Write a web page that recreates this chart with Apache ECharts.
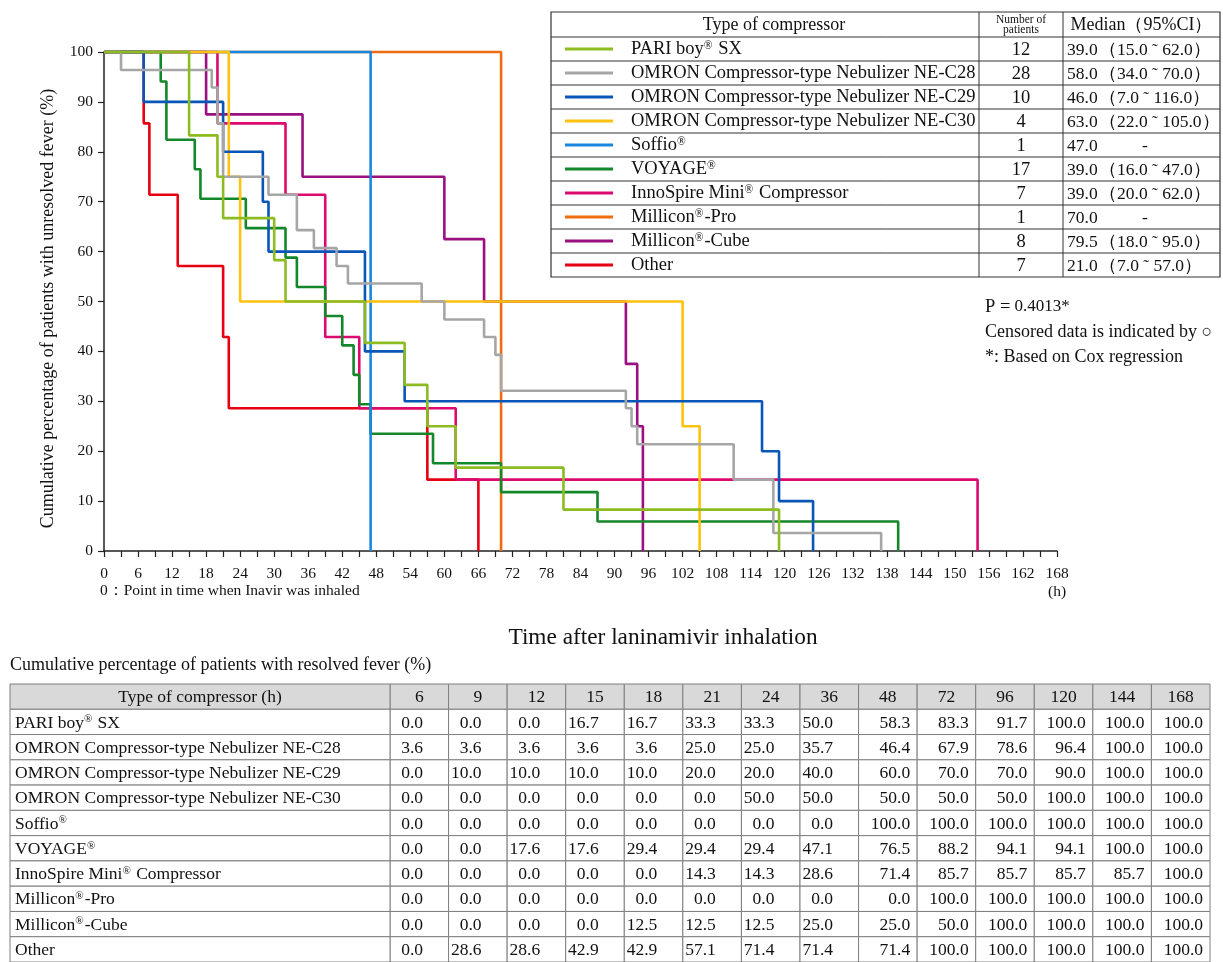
<!DOCTYPE html>
<html><head><meta charset="utf-8">
<script src="https://cdn.jsdelivr.net/npm/echarts@6/dist/echarts.min.js"></script>
<style>html,body{margin:0;padding:0;background:#fff}#c{width:1223px;height:962px}</style>
</head><body><div id="c"></div>
<script>
const FONT = '"Liberation Serif", "Times New Roman", serif';

// ---------- legend / series meta ----------
const compressorNames = [
  'PARI boy® SX',
  'OMRON Compressor-type Nebulizer NE-C28',
  'OMRON Compressor-type Nebulizer NE-C29',
  'OMRON Compressor-type Nebulizer NE-C30',
  'Soffio®',
  'VOYAGE®',
  'InnoSpire Mini® Compressor',
  'Millicon®-Pro',
  'Millicon®-Cube',
  'Other'
];
const compressorColors = ['#8CBB22','#A6A6A6','#0A56B8','#FFC20E','#1787E0','#14872A','#DC0A6E','#EF6C10','#9A1080','#E60012'];
const patientCounts = [12, 28, 10, 4, 1, 17, 7, 1, 8, 7];
const medianValues = [39.0, 58.0, 46.0, 63.0, 47.0, 39.0, 39.0, 70.0, 79.5, 21.0];
const ciLower = [15.0, 34.0, 7.0, 22.0, null, 16.0, 20.0, null, 18.0, 7.0];
const ciUpper = [62.0, 70.0, 116.0, 105.0, null, 47.0, 62.0, null, 95.0, 57.0];

// ---------- Kaplan-Meier step points (time h, % unresolved) ----------
const pariTimes = [0, 15, 20, 21, 30, 32, 46, 53, 57, 62, 81, 119];
const pariSurv  = [100, 83.3, 75, 66.7, 58.3, 50, 41.7, 33.3, 25, 16.7, 8.3, 0];
const c28Times = [0, 3, 19, 20, 21, 29, 34, 37, 41, 43, 56, 60, 67, 69, 70, 92, 93, 94, 111, 118, 137];
const c28Surv  = [100, 96.4, 92.9, 85.7, 75, 71.4, 64.3, 60.7, 57.1, 53.6, 50, 46.4, 42.9, 39.3, 32.1, 28.6, 25, 21.4, 14.3, 3.6, 0];
const c29Times = [0, 7, 21, 28, 29, 46, 53, 116, 119, 125];
const c29Surv  = [100, 90, 80, 70, 60, 40, 30, 20, 10, 0];
const c30Times = [0, 22, 24, 102, 105];
const c30Surv  = [100, 75, 50, 25, 0];
const soffioTimes = [0, 47];
const soffioSurv  = [100, 0];
const voyageTimes = [0, 10, 11, 16, 17, 25, 32, 34, 39, 42, 44, 45, 47, 58, 70, 87, 140];
const voyageSurv  = [100, 94.1, 82.4, 76.5, 70.6, 64.7, 58.8, 52.9, 47.1, 41.2, 35.3, 29.4, 23.5, 17.6, 11.8, 5.9, 0];
const innoTimes = [0, 20, 32, 39, 45, 62, 154];
const innoSurv  = [100, 85.7, 71.4, 42.9, 28.6, 14.3, 0];
const proTimes = [0, 70];
const proSurv  = [100, 0];
const cubeTimes = [0, 18, 35, 60, 67, 92, 94, 95];
const cubeSurv  = [100, 87.5, 75, 62.5, 50, 37.5, 25, 0];
const otherTimes = [0, 7, 8, 13, 21, 22, 57, 66];
const otherSurv  = [100, 85.7, 71.4, 57.1, 42.9, 28.6, 14.3, 0];

const allTimes = [pariTimes, c28Times, c29Times, c30Times, soffioTimes, voyageTimes, innoTimes, proTimes, cubeTimes, otherTimes];
const allSurv  = [pariSurv, c28Surv, c29Surv, c30Surv, soffioSurv, voyageSurv, innoSurv, proSurv, cubeSurv, otherSurv];

// ---------- resolved-fever table ----------
const tableHours = ['6','9','12','15','18','21','24','36','48','72','96','120','144','168'];
const resolvedPari   = [0.0,0.0,0.0,16.7,16.7,33.3,33.3,50.0,58.3,83.3,91.7,100.0,100.0,100.0];
const resolvedC28    = [3.6,3.6,3.6,3.6,3.6,25.0,25.0,35.7,46.4,67.9,78.6,96.4,100.0,100.0];
const resolvedC29    = [0.0,10.0,10.0,10.0,10.0,20.0,20.0,40.0,60.0,70.0,70.0,90.0,100.0,100.0];
const resolvedC30    = [0.0,0.0,0.0,0.0,0.0,0.0,50.0,50.0,50.0,50.0,50.0,100.0,100.0,100.0];
const resolvedSoffio = [0.0,0.0,0.0,0.0,0.0,0.0,0.0,0.0,100.0,100.0,100.0,100.0,100.0,100.0];
const resolvedVoyage = [0.0,0.0,17.6,17.6,29.4,29.4,29.4,47.1,76.5,88.2,94.1,94.1,100.0,100.0];
const resolvedInno   = [0.0,0.0,0.0,0.0,0.0,14.3,14.3,28.6,71.4,85.7,85.7,85.7,85.7,100.0];
const resolvedPro    = [0.0,0.0,0.0,0.0,0.0,0.0,0.0,0.0,0.0,100.0,100.0,100.0,100.0,100.0];
const resolvedCube   = [0.0,0.0,0.0,0.0,12.5,12.5,12.5,25.0,25.0,50.0,100.0,100.0,100.0,100.0];
const resolvedOther  = [0.0,28.6,28.6,42.9,42.9,57.1,71.4,71.4,71.4,100.0,100.0,100.0,100.0,100.0];
const resolvedRows = [resolvedPari, resolvedC28, resolvedC29, resolvedC30, resolvedSoffio, resolvedVoyage, resolvedInno, resolvedPro, resolvedCube, resolvedOther];

// ---------- helpers ----------
function supStyle(size) { return { sup: { fontSize: size, verticalAlign: 'top', fontFamily: FONT, fill: '#111', padding: [0, 1, 0, 0] } }; }
function richName(s) { return s.replace(/®/g, '{sup|®}'); }

const chart = echarts.init(document.getElementById('c'), null, { renderer: 'canvas' });

// KM series (drawn in reverse so the first legend entries sit on top)
const kmSeries = [];
for (let i = compressorNames.length - 1; i >= 0; i--) {
  kmSeries.push({
    name: compressorNames[i],
    type: 'line',
    xAxisIndex: 0, yAxisIndex: 0,
    step: 'end',
    symbol: 'none',
    clip: false,
    lineStyle: { color: compressorColors[i], width: 2.6 },
    itemStyle: { color: compressorColors[i] },
    data: allTimes[i].map((t, k) => [t, allSurv[i][k]])
  });
}

// table data
const rowKeys = ['header'].concat(compressorNames);
const tableData = [];
const tableText = [];
for (let r = 0; r < rowKeys.length; r++) {
  for (let c = 0; c < tableHours.length; c++) {
    tableData.push([c, r]);
    tableText.push(r === 0 ? tableHours[c] : resolvedRows[r - 1][c].toFixed(1));
  }
}
// columns that ever reach 100.0 are right-aligned to the cell edge; narrower ones to an inner tab stop
const wideColumn = tableHours.map((h, c) => resolvedRows.some(row => row[c] >= 100));
const NAME_COL_W = 380;
const TBL_FONT = 17.5;
function renderTable(params, api) {
  const c = api.value(0), r = api.value(1);
  const ctr = api.coord([c, r]);
  const sz = api.size([1, 1]);
  const x0 = ctr[0] - sz[0] / 2, y0 = ctr[1] - sz[1] / 2;
  const header = r === 0;
  const tx = header ? ctr[0] : (wideColumn[c] ? x0 + sz[0] - 7 : x0 + 33);
  const kids = [
    { type: 'rect', shape: { x: x0, y: y0, width: sz[0], height: sz[1] },
      style: { fill: header ? '#d9d9d9' : '#fff', stroke: '#7f7f7f', lineWidth: 1 } },
    { type: 'text', x: tx, y: ctr[1] + 1,
      style: { text: tableText[params.dataIndex], fontFamily: FONT, fontSize: TBL_FONT, fill: '#111',
               align: header ? 'center' : 'right', verticalAlign: 'middle' } }
  ];
  if (c === 0) {
    kids.push({ type: 'rect', shape: { x: x0 - NAME_COL_W, y: y0, width: NAME_COL_W, height: sz[1] },
      style: { fill: header ? '#d9d9d9' : '#fff', stroke: '#7f7f7f', lineWidth: 1 } });
    kids.push({ type: 'text', x: header ? x0 - NAME_COL_W / 2 : x0 - NAME_COL_W + 5, y: ctr[1] + 1,
      style: { text: header ? 'Type of compressor (h)' : richName(compressorNames[r - 1]),
               rich: supStyle(11), fontFamily: FONT, fontSize: TBL_FONT, fill: '#111',
               align: header ? 'center' : 'left', verticalAlign: 'middle' } });
  }
  return { type: 'group', children: kids };
}

// legend table graphics
const LG = { left: 551, top: 12, right: 1220, headH: 25, rowH: 24, col1: 979, col2: 1063 };
const legendGraphics = [];
const LGbottom = LG.top + LG.headH + LG.rowH * compressorNames.length;
legendGraphics.push({ type: 'rect', shape: { x: LG.left, y: LG.top, width: LG.right - LG.left, height: LGbottom - LG.top },
  style: { fill: '#fff', stroke: '#333', lineWidth: 1.2 }, z: 10 });
[LG.col1, LG.col2].forEach(x => legendGraphics.push({ type: 'line', shape: { x1: x, y1: LG.top, x2: x, y2: LGbottom }, style: { stroke: '#333', lineWidth: 1 }, z: 11 }));
for (let i = 0; i < compressorNames.length; i++) {
  const y = LG.top + LG.headH + LG.rowH * i;
  legendGraphics.push({ type: 'line', shape: { x1: LG.left, y1: y, x2: LG.right, y2: y }, style: { stroke: '#333', lineWidth: 1 }, z: 11 });
}
const hc = LG.top + LG.headH / 2;
legendGraphics.push({ type: 'text', x: (LG.left + LG.col1) / 2 + 9, y: hc + 1, z: 12,
  style: { text: 'Type of compressor', fontFamily: FONT, fontSize: 18, fill: '#111', align: 'center', verticalAlign: 'middle' } });
legendGraphics.push({ type: 'text', x: (LG.col1 + LG.col2) / 2, y: hc, z: 12,
  style: { text: 'Number of\npatients', fontFamily: FONT, fontSize: 11.5, lineHeight: 10, fill: '#111', align: 'center', verticalAlign: 'middle' } });
legendGraphics.push({ type: 'text', x: (LG.col2 + LG.right) / 2, y: hc + 1, z: 12,
  style: { text: 'Median（95%CI）', fontFamily: FONT, fontSize: 18, fill: '#111', align: 'center', verticalAlign: 'middle' } });
for (let i = 0; i < compressorNames.length; i++) {
  const cy = LG.top + LG.headH + LG.rowH * i + LG.rowH / 2;
  legendGraphics.push({ type: 'line', shape: { x1: 565, y1: cy, x2: 613, y2: cy }, style: { stroke: compressorColors[i], lineWidth: 3 }, z: 12 });
  legendGraphics.push({ type: 'text', x: 631, y: cy, z: 12,
    style: { text: richName(compressorNames[i]), rich: supStyle(11.5), fontFamily: FONT, fontSize: 18.5, fill: '#111', align: 'left', verticalAlign: 'middle' } });
  legendGraphics.push({ type: 'text', x: (LG.col1 + LG.col2) / 2, y: cy + 1, z: 12,
    style: { text: String(patientCounts[i]), fontFamily: FONT, fontSize: 18.5, fill: '#111', align: 'center', verticalAlign: 'middle' } });
  legendGraphics.push({ type: 'text', x: LG.col2 + 4, y: cy + 1, z: 12,
    style: { text: medianValues[i].toFixed(1), fontFamily: FONT, fontSize: 17.5, fill: '#111', align: 'left', verticalAlign: 'middle' } });
  if (ciLower[i] !== null) {
    legendGraphics.push({ type: 'text', x: LG.col2 + 36, y: cy + 1, z: 12,
      style: { text: '（' + ciLower[i].toFixed(1) + ' ˜ ' + ciUpper[i].toFixed(1) + '）', fontFamily: FONT, fontSize: 17.5, fill: '#111', align: 'left', verticalAlign: 'middle' } });
  } else {
    legendGraphics.push({ type: 'text', x: 1145, y: cy + 1, z: 12,
      style: { text: '-', fontFamily: FONT, fontSize: 17.5, fill: '#111', align: 'center', verticalAlign: 'middle' } });
  }
}

const textGraphics = [
  { type: 'text', x: 985, y: 307, style: { text: '{b|P =} 0.4013*', rich: { b: { fontFamily: FONT, fontSize: 18.5, fill: '#111' } }, fontFamily: FONT, fontSize: 17, fill: '#111', align: 'left', verticalAlign: 'middle' } },
  { type: 'text', x: 985, y: 332, style: { text: 'Censored data is indicated by ○', fontFamily: FONT, fontSize: 18, fill: '#111', align: 'left', verticalAlign: 'middle' } },
  { type: 'text', x: 985, y: 357, style: { text: '*: Based on Cox regression', fontFamily: FONT, fontSize: 18, fill: '#111', align: 'left', verticalAlign: 'middle' } },
  { type: 'text', x: 100, y: 591, style: { text: '0：Point in time when Inavir was inhaled', fontFamily: FONT, fontSize: 15.5, fill: '#111', align: 'left', verticalAlign: 'middle' } },
  { type: 'text', x: 1057, y: 592, style: { text: '(h)', fontFamily: FONT, fontSize: 15.5, fill: '#111', align: 'center', verticalAlign: 'middle' } },
  { type: 'text', x: 663, y: 638, style: { text: 'Time after laninamivir inhalation', fontFamily: FONT, fontSize: 23.3, fill: '#111', align: 'center', verticalAlign: 'middle' } },
  { type: 'text', x: 10, y: 665, style: { text: 'Cumulative percentage of patients with resolved fever (%)', fontFamily: FONT, fontSize: 18, fill: '#111', align: 'left', verticalAlign: 'middle' } }
];

const axisLineStyle = { color: '#222', width: 1.5 };
const option = {
  animation: false,
  backgroundColor: '#fff',
  grid: [
    { left: 104, top: 52, width: 953, height: 499 },
    { left: 390, top: 684, width: 820, height: 279.4 }
  ],
  xAxis: [
    { type: 'value', gridIndex: 0, min: 0, max: 168, interval: 6,
      axisLine: { show: true, onZero: false, lineStyle: axisLineStyle },
      axisTick: { show: true, length: 6, lineStyle: { color: '#222', width: 1.2 } },
      minorTick: { show: true, splitNumber: 2, length: 6, lineStyle: { color: '#222', width: 1.2 } },
      splitLine: { show: false }, minorSplitLine: { show: false },
      axisLabel: { fontFamily: FONT, fontSize: 15.5, color: '#111', margin: 15 } },
    { type: 'category', gridIndex: 1, data: tableHours, show: false }
  ],
  yAxis: [
    { type: 'value', gridIndex: 0, min: 0, max: 100, interval: 10,
      name: 'Cumulative percentage of patients with unresolved fever (%)',
      nameLocation: 'middle', nameGap: 47, nameRotate: 90,
      nameTextStyle: { fontFamily: FONT, fontSize: 18, color: '#111', padding: [0, 14, 0, 0] },
      axisLine: { show: true, lineStyle: axisLineStyle },
      axisTick: { show: true, length: 6, lineStyle: { color: '#222', width: 1.2 } },
      splitLine: { show: false },
      axisLabel: { fontFamily: FONT, fontSize: 15.5, color: '#111', margin: 11 } },
    { type: 'category', gridIndex: 1, data: rowKeys, inverse: true, show: false }
  ],
  graphic: legendGraphics.concat(textGraphics),
  series: kmSeries.concat([{
    type: 'custom', xAxisIndex: 1, yAxisIndex: 1,
    renderItem: renderTable,
    data: tableData,
    clip: false,
    silent: true
  }])
};
chart.setOption(option);
</script>
</body></html>
